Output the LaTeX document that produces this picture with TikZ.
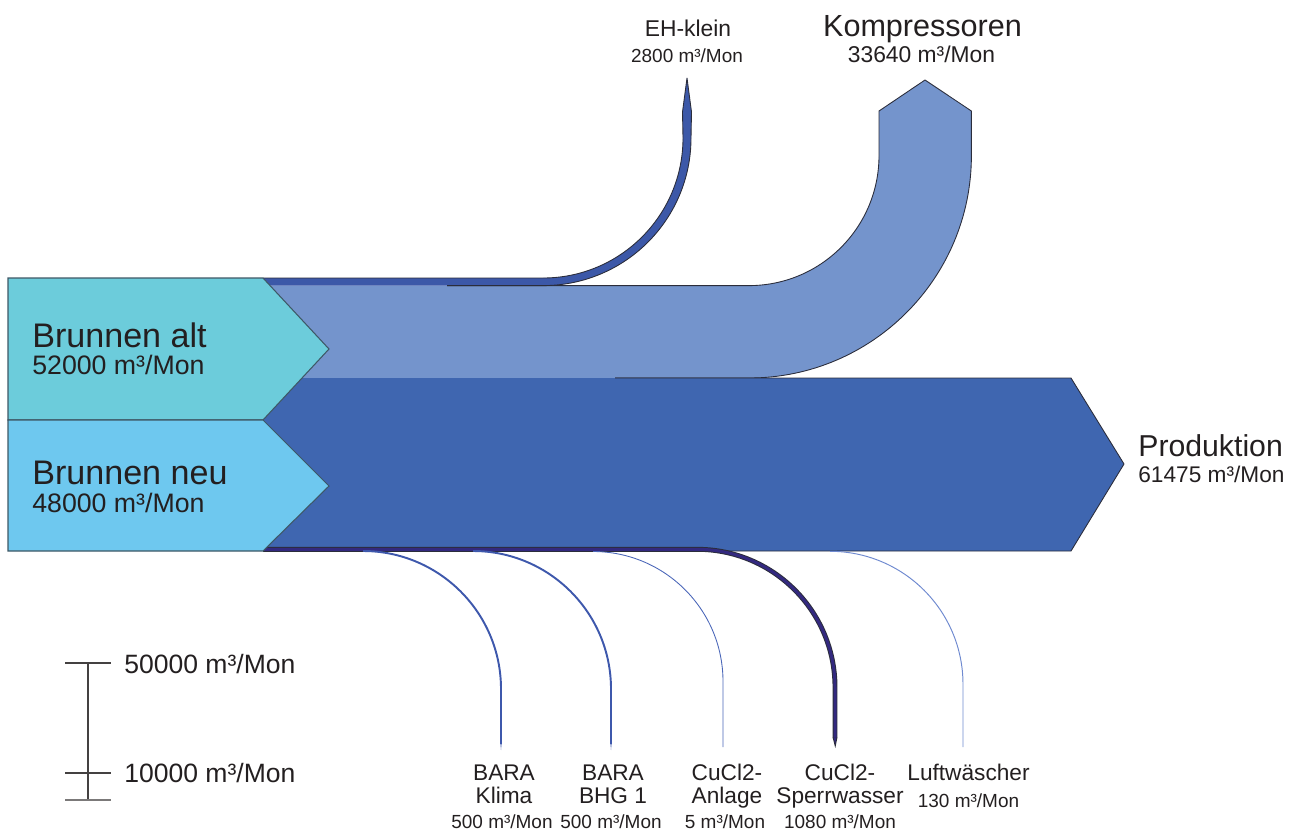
\documentclass[tikz,border=0pt]{standalone}
\usepackage{fontspec}
\setmainfont{Liberation Sans}
\newcommand\fsz[1]{\fontsize{#1}{#1}\selectfont}
\definecolor{altc}{HTML}{6CCCDB}
\definecolor{neuc}{HTML}{6EC8EF}
\definecolor{kompc}{HTML}{7494CC}
\definecolor{prodc}{HTML}{3F66B0}
\definecolor{ehc}{HTML}{3C58A8}
\definecolor{barac}{HTML}{3E58AC}
\definecolor{anlc}{HTML}{4A66B8}
\definecolor{luftc}{HTML}{6F8AD0}
\definecolor{sperrc}{HTML}{33297F}
\definecolor{edgec}{HTML}{2B2D3B}
\definecolor{srcedge}{HTML}{3E5866}
\definecolor{txtc}{HTML}{231F20}
\begin{document}
\begin{tikzpicture}[x=0.02cm,y=-0.02cm,
  lbl/.style={inner sep=0pt,text=txtc},
  outline/.style={draw=edgec,line width=0.5pt,line join=round},
  srcbox/.style={draw=srcedge,line width=0.6pt,line join=miter},
  thinflow/.style={line cap=butt}]
\useasboundingbox (0,0) rectangle (1301,832);

% Kompressoren flow
\fill[kompc] (263,285.6) -- (749,285.6) .. controls (820.8,285.6) and (879,227.4) .. (879,155.6)
  -- (879,111) -- (925,80) -- (971.4,111) -- (971.4,155.6)
  .. controls (971.4,278.4) and (871.8,378) .. (749,378) -- (263,378) -- cycle;
\draw[outline] (447,285.6) -- (749,285.6) .. controls (820.8,285.6) and (879,227.4) .. (879,155.6)
  -- (879,111) -- (925,80) -- (971.4,111) -- (971.4,155.6)
  .. controls (971.4,278.4) and (871.8,378) .. (749,378) -- (615,378);

% Produktion flow
\fill[prodc] (263,378) -- (1071,378) -- (1124,464) -- (1071,551) -- (263,551) -- cycle;
\draw[outline] (615,378) -- (1071,378) -- (1124,464) -- (1071,551) -- (263,551);

% EH-klein flow
\fill[ehc] (263,278) -- (543,278) .. controls (620.3,278) and (683,215.3) .. (683,138)
  -- (682.5,112) -- (687,78) -- (691.5,112) -- (691,138)
  .. controls (691,219.7) and (624.7,285.6) .. (543,285.6) -- (263,285.6) -- cycle;
\draw[outline] (263,278) -- (543,278) .. controls (620.3,278) and (683,215.3) .. (683,138)
  -- (682.5,112) -- (687,78) -- (691.5,112) -- (691,138)
  .. controls (691,219.7) and (624.7,285.6) .. (543,285.6) -- (447,285.6);

% Small outflows at the bottom edge
\draw[thinflow,draw=edgec,line width=2.8pt] (263,549.3) -- (697,549.3)
  .. controls (773.2,549.3) and (835,611.1) .. (835,687.3) -- (835,738);
\draw[thinflow,draw=sperrc,line width=1.7pt] (263,549.3) -- (697,549.3)
  .. controls (773.2,549.3) and (835,611.1) .. (835,687.3) -- (835,738);
\fill[edgec] (832.6,737.5) -- (835.3,748) -- (837.4,737.5) -- cycle;
\fill[sperrc] (833.8,737.5) -- (835.2,744) -- (836.2,737.5) -- cycle;

\draw[thinflow,draw=barac,line width=1.1pt] (363,551) .. controls (439.2,551) and (501,612.8) .. (501,689) -- (501,744);
\fill[barac] (500.4,743) -- (501,750) -- (501.6,743) -- cycle;
\draw[thinflow,draw=barac,line width=1.1pt] (473,551) .. controls (549.2,551) and (611,612.8) .. (611,689) -- (611,744);
\fill[barac] (610.4,743) -- (611,750) -- (611.6,743) -- cycle;
\draw[thinflow,draw=anlc,line width=0.5pt] (593,551.5) .. controls (664.8,551.5) and (723,609.7) .. (723,681.5) -- (723,747);
\draw[thinflow,draw=luftc,line width=0.55pt] (830,551.3) .. controls (903.5,551.3) and (963,610.8) .. (963,684.3) -- (963,747);

% Sources
\draw[srcbox,fill=altc] (8,278) -- (263,278) -- (329,349) -- (263,420) -- (8,420) -- cycle;
\draw[srcbox,fill=neuc] (8,420) -- (263,420) -- (329,486) -- (263,551) -- (8,551) -- cycle;

% Labels of the sources
\node[lbl,anchor=base west,font=\fsz{19.4}] (altname) at (32,347) {Brunnen alt};
\node[lbl,anchor=base west,font=\fsz{15.2}] (altval) at (32,374) {52000 m³/Mon};
\node[lbl,anchor=base west,font=\fsz{19.4}] (neuname) at (32,484) {Brunnen neu};
\node[lbl,anchor=base west,font=\fsz{15.2}] (neuval) at (32,512) {48000 m³/Mon};

% Labels of the outflows
\node[lbl,anchor=base,font=\fsz{13}] (ehname) at (688,36) {EH-klein};
\node[lbl,anchor=base,font=\fsz{10.8}] (ehval) at (687,62) {2800 m³/Mon};
\node[lbl,anchor=base,font=\fsz{17.4}] (kompname) at (922.5,36) {Kompressoren};
\node[lbl,anchor=base,font=\fsz{13}] (kompval) at (921.5,62) {33640 m³/Mon};
\node[lbl,anchor=base west,font=\fsz{17.2}] (prodname) at (1138,456) {Produktion};
\node[lbl,anchor=base west,font=\fsz{12.9}] (prodval) at (1138,482) {61475 m³/Mon};

\node[lbl,anchor=base,font=\fsz{12.9}] (klimaA) at (504,780) {BARA};
\node[lbl,anchor=base,font=\fsz{12.9}] (klimaB) at (504,803) {Klima};
\node[lbl,anchor=base,font=\fsz{10.8}] (klimaV) at (502,828) {500 m³/Mon};
\node[lbl,anchor=base,font=\fsz{12.9}] (bhgA) at (613,780) {BARA};
\node[lbl,anchor=base,font=\fsz{12.9}] (bhgB) at (613,803) {BHG 1};
\node[lbl,anchor=base,font=\fsz{10.8}] (bhgV) at (611,828) {500 m³/Mon};
\node[lbl,anchor=base,font=\fsz{12.9}] (anlA) at (727,780) {CuCl2-};
\node[lbl,anchor=base,font=\fsz{12.9}] (anlB) at (727,803) {Anlage};
\node[lbl,anchor=base,font=\fsz{10.8}] (anlV) at (725,828) {5 m³/Mon};
\node[lbl,anchor=base,font=\fsz{12.9}] (spA) at (840,780) {CuCl2-};
\node[lbl,anchor=base,font=\fsz{12.9}] (spB) at (840,803) {Sperrwasser};
\node[lbl,anchor=base,font=\fsz{10.8}] (spV) at (840,828) {1080 m³/Mon};
\node[lbl,anchor=base,font=\fsz{12.9}] (luftA) at (968.5,780) {Luftwäscher};
\node[lbl,anchor=base,font=\fsz{10.8}] (luftV) at (968.5,807) {130 m³/Mon};

% Scale bar
\coordinate (s50) at (88,663);
\coordinate (s10) at (88,773);
\coordinate (s0) at (88,800);
\draw[draw=txtc!85,line width=0.6pt] (s50) -- (s0);
\draw[draw=txtc!85,line width=0.6pt] ([xshift=-13]s50) -- ([xshift=13]s50);
\draw[draw=txtc!85,line width=0.6pt] ([xshift=-13]s10) -- ([xshift=13]s10);
\draw[draw=txtc!60,line width=0.8pt] ([xshift=-13]s0) -- ([xshift=13]s0);
\node[lbl,anchor=base west,font=\fsz{15.1}] (scaleA) at (124,673) {50000 m³/Mon};
\node[lbl,anchor=base west,font=\fsz{15.1}] (scaleB) at (124,782) {10000 m³/Mon};
\end{tikzpicture}
\end{document}
